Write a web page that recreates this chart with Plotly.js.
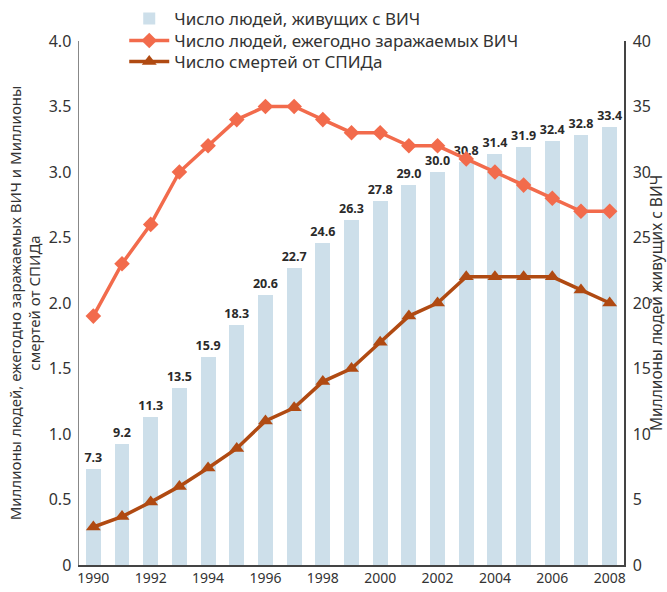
<!DOCTYPE html>
<html>
<head>
<meta charset="utf-8">
<script src="https://cdn.plot.ly/plotly-3.0.1.min.js"></script>
<style>html,body{margin:0;padding:0;background:#fff;}#chart{width:667px;height:592px;}</style>
</head>
<body>
<div id="chart"></div>
<script>
var years = [1990,1991,1992,1993,1994,1995,1996,1997,1998,1999,2000,2001,2002,2003,2004,2005,2006,2007,2008];
var living = [7.3,9.2,11.3,13.5,15.9,18.3,20.6,22.7,24.6,26.3,27.8,29.0,30.0,30.8,31.4,31.9,32.4,32.8,33.4];
var newInfections = [1.9,2.3,2.6,3.0,3.2,3.4,3.5,3.5,3.4,3.3,3.3,3.2,3.2,3.1,3.0,2.9,2.8,2.7,2.7];
var deaths = [0.29,0.37,0.48,0.60,0.74,0.89,1.1,1.2,1.4,1.5,1.7,1.9,2.0,2.2,2.2,2.2,2.2,2.1,2.0];
var leftTickVals = [0,0.5,1.0,1.5,2.0,2.5,3.0,3.5,4.0];
var leftTickText = ['0','0.5','1.0','1.5','2.0','2.5','3.0','3.5','4.0'];
var rightTickVals = [0,5,10,15,20,25,30,35,40];
var xTickVals = [1990,1992,1994,1996,1998,2000,2002,2004,2006,2008];

var FONT = 'Noto Sans, Open Sans, sans-serif';

var traces = [
  {
    type: 'bar', name: 'Число людей, живущих с ВИЧ', legend: 'legend',
    x: years, y: living, xaxis: 'x', yaxis: 'y',
    marker: {color: '#cddfea'}, width: 0.52,
    text: living.map(function(v){return v.toFixed(1);}),
    textposition: 'outside', cliponaxis: false,
    textfont: {family: FONT, size: 12.5, color: '#2a2a2a', weight: 'bold'},
    hoverinfo: 'skip'
  },
  {
    type: 'scatter', mode: 'lines+markers', name: 'Число людей, ежегодно заражаемых ВИЧ', legend: 'legend2',
    x: years, y: newInfections, xaxis: 'x', yaxis: 'y2',
    line: {color: '#f26b4c', width: 3.5},
    marker: {symbol: 'diamond', size: 12, color: '#f26b4c'},
    cliponaxis: false
  },
  {
    type: 'scatter', mode: 'lines+markers', name: 'Число смертей от СПИДа', legend: 'legend3',
    x: years, y: deaths, xaxis: 'x', yaxis: 'y2',
    line: {color: '#b04a12', width: 3.5},
    marker: {symbol: 'triangle-up', size: 13, color: '#b04a12'},
    cliponaxis: false
  }
];

function leg(y) {
  return {
    x: 0.083, y: y, xanchor: 'left', yanchor: 'middle',
    bgcolor: 'rgba(0,0,0,0)', borderwidth: 0,
    font: {family: FONT, size: 17, color: '#333'},
    itemwidth: 40
  };
}

var layout = {
  width: 667, height: 592,
  margin: {l: 79, r: 43, t: 41, b: 27, pad: 0, autoexpand: false},
  paper_bgcolor: '#fff', plot_bgcolor: '#fff',
  font: {family: FONT, size: 14, color: '#333'},
  uniformtext: {mode: 'show', minsize: 12.5},
  showlegend: true,
  legend: leg(1.042),
  legend2: leg(1.0),
  legend3: leg(0.96),
  bargap: 0,
  xaxis: {
    range: [1989.5, 2008.5], tickvals: xTickVals, ticks: '',
    showgrid: false, zeroline: false, showline: true, linecolor: '#444', linewidth: 1.5,
    tickfont: {size: 14, color: '#333'}, fixedrange: true
  },
  yaxis: {
    side: 'right', range: [0, 40], tickvals: rightTickVals, ticks: '',
    showgrid: false, zeroline: false, showline: true, linecolor: '#444', linewidth: 1.5,
    tickfont: {size: 16, color: '#333'}, ticklabelstandoff: 4,
    title: {text: 'Миллионы людей живущих с ВИЧ', font: {size: 15.5, color: '#333'}, standoff: 8}
  },
  yaxis2: {
    overlaying: 'y', side: 'left', range: [0, 4], tickvals: leftTickVals, ticktext: leftTickText, ticks: '',
    showgrid: false, zeroline: false, showline: true, linecolor: '#888', linewidth: 1.5,
    tickfont: {size: 16, color: '#333'}, ticklabelstandoff: 3,
    title: {text: 'Миллионы людей, ежегодно заражаемых ВИЧ и Миллионы<br>смертей от СПИДа', font: {size: 15, color: '#333'}, standoff: 4}
  }
};

Plotly.newPlot('chart', traces, layout, {displayModeBar: false, staticPlot: true});
</script>
</body>
</html>
